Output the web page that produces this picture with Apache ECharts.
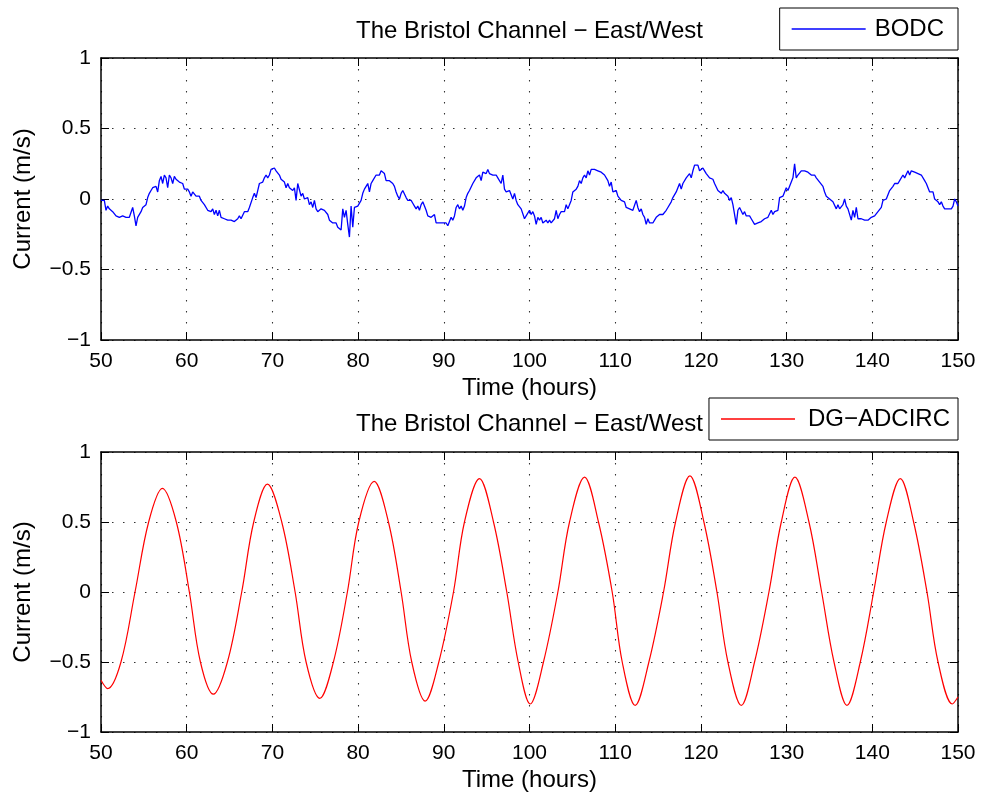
<!DOCTYPE html>
<html>
<head>
<meta charset="utf-8">
<script src="https://cdn.jsdelivr.net/npm/echarts@6/dist/echarts.min.js"></script>
<style>
html,body{margin:0;padding:0;background:#fff;}
#chart{width:983px;height:798px;}
</style>
</head>
<body>
<div id="chart"></div>
<script>
// ---------- data ----------
const chartTitle = 'The Bristol Channel \u2212 East/West';
const xAxisName = 'Time (hours)';
const yAxisName = 'Current (m/s)';
const xTicks = [50, 60, 70, 80, 90, 100, 110, 120, 130, 140, 150];
const yTicks = [-1, -0.5, 0, 0.5, 1];

// BODC observed current, sampled every ~11.7 min starting at hour 50
const bodcName = 'BODC';
const bodcStartHour = 50;
const bodcStepHours = 0.194553;
const bodcCurrent = [
 -0.01,-0.02,-0.01,-0.08,-0.05,-0.07,-0.06,-0.09,-0.08,-0.12,
 -0.11,-0.13,-0.12,-0.12,-0.13,-0.13,-0.13,-0.13,-0.13,-0.06,
 -0.12,-0.19,-0.13,-0.14,-0.09,-0.06,-0.05,-0.04,0.01,0.04,
 0.06,0.08,0.07,0.09,0.05,0.13,0.16,0.11,0.17,0.15,
 0.08,0.17,0.15,0.11,0.16,0.14,0.13,0.12,0.11,0.11,
 0.07,0.06,0.07,0.05,0.02,0.05,0.04,0.02,0.01,0.02,
 -0.01,0.00,-0.04,-0.05,-0.08,-0.07,-0.09,-0.07,-0.11,-0.08,
 -0.12,-0.08,-0.13,-0.14,-0.14,-0.14,-0.15,-0.15,-0.15,-0.15,
 -0.16,-0.17,-0.14,-0.12,-0.14,-0.13,-0.09,-0.08,-0.09,-0.06,
 -0.05,0.01,0.04,0.01,0.06,0.11,0.12,0.12,0.15,0.17,
 0.15,0.17,0.21,0.22,0.22,0.20,0.20,0.17,0.14,0.14,
 0.12,0.08,0.11,0.08,0.09,0.06,0.08,-0.01,0.11,
 0.12,0.02,0.04,0.00,-0.01,0.01,-0.04,-0.02,-0.06,-0.01,
 -0.07,-0.09,-0.08,-0.07,-0.06,-0.08,-0.09,-0.11,-0.15,-0.14,
 -0.17,-0.17,-0.17,-0.20,-0.21,-0.22,-0.07,-0.13,-0.08,-0.18,
 -0.27,-0.05,-0.20,-0.06,-0.07,-0.05,-0.04,-0.01,0.04,0.07,
 0.09,0.11,0.05,0.11,0.13,0.14,0.17,0.18,0.17,0.20,
 0.20,0.18,0.13,0.14,0.13,0.12,0.11,0.09,0.05,0.02,
 0.00,0.04,0.06,0.05,0.01,-0.01,-0.02,-0.01,-0.03,-0.05,
 -0.07,-0.05,-0.08,-0.04,-0.02,-0.05,-0.08,-0.12,-0.11,-0.13,
 -0.14,-0.11,-0.17,-0.18,-0.17,-0.17,-0.17,-0.18,-0.17,-0.19,
 -0.18,-0.13,-0.15,-0.12,-0.06,-0.04,-0.07,-0.05,-0.08,-0.05,
 0.01,0.04,0.06,0.07,0.11,0.12,0.15,0.14,0.17,0.13,
 0.19,0.20,0.18,0.21,0.18,0.19,0.17,0.17,0.17,0.15,
 0.14,0.11,0.17,0.07,0.05,0.06,
 0.06,0.05,0.00,0.04,-0.01,-0.04,-0.05,-0.07,-0.06,-0.14,
 -0.12,-0.13,-0.08,-0.11,-0.09,-0.12,-0.18,-0.13,-0.15,-0.13,
 -0.17,-0.18,-0.15,-0.17,-0.15,-0.17,-0.18,-0.14,-0.08,-0.14,
 -0.11,-0.09,-0.08,-0.09,-0.04,-0.07,-0.06,-0.01,0.05,0.06,
 0.07,0.09,0.13,0.11,0.15,0.17,0.15,0.20,0.17,0.21,
 0.22,0.21,0.21,0.20,0.20,0.19,0.19,0.17,0.18,0.13,
 0.09,0.12,0.05,0.05,0.06,0.02,0.01,-0.01,-0.01,-0.02,
 -0.06,-0.06,-0.07,-0.07,-0.08,-0.07,-0.01,-0.06,-0.09,-0.07,
 -0.11,-0.13,-0.18,-0.14,-0.17,-0.17,-0.17,-0.15,-0.13,-0.13,
 -0.11,-0.12,-0.11,-0.11,-0.08,-0.06,-0.05,-0.02,0.01,0.02,
 0.05,0.06,0.11,0.07,0.11,0.11,0.15,0.14,0.18,0.15,
 0.20,0.24,0.25,0.24,0.20,0.21,0.22,0.20,0.18,0.17,
 0.15,0.14,0.14,0.11,0.11,0.06,
 0.05,0.04,0.06,0.04,0.05,0.02,-0.01,0.01,-0.04,-0.05,
 -0.18,-0.08,-0.06,-0.07,-0.11,-0.09,-0.12,-0.11,-0.12,-0.14,
 -0.15,-0.18,-0.18,-0.17,-0.17,-0.16,-0.16,-0.14,-0.13,-0.13,
 -0.12,-0.08,-0.11,-0.09,-0.09,-0.08,0.01,0.00,0.02,0.02,
 0.08,0.06,0.09,0.12,0.15,0.25,0.15,0.17,0.18,0.20,
 0.19,0.20,0.21,0.19,0.18,0.17,0.18,0.17,0.15,0.14,
 0.12,0.11,0.09,0.05,0.02,0.01,0.00,-0.01,-0.02,-0.01,
 -0.07,-0.04,-0.07,-0.06,-0.04,0.00,-0.05,-0.07,-0.08,-0.15,
 -0.08,-0.13,-0.06,-0.14,-0.15,-0.14,-0.15,-0.15,-0.16,-0.15,
 -0.14,-0.13,-0.12,-0.12,-0.12,-0.09,-0.09,-0.06,-0.01,0.00,
 0.00,0.01,0.06,0.07,0.09,0.11,0.11,0.11,0.13,0.14,
 0.17,0.15,0.14,0.20,0.17,0.20,0.21,0.19,0.19,0.18,
 0.17,0.17,0.18,0.13,0.11,0.11,0.05,0.06,0.05,0.00,
 -0.01,-0.02,-0.04,-0.02,-0.05,-0.07,-0.08,-0.07,-0.08,-0.07,
 -0.05,0.00,-0.02,-0.05
];

// DG-ADCIRC modelled current (read at extremes, zero and +/-0.5 crossings)
const adcircName = 'DG\u2212ADCIRC';
const adcircTime = [
 50.00,50.78,52.33,53.97,55.56,57.16,58.79,60.31,61.60,63.11,
 64.75,66.42,67.82,69.42,71.09,72.65,73.93,75.53,77.12,78.75,
 80.08,81.87,83.54,85.02,86.26,87.82,89.42,91.13,92.41,94.16,
 95.80,97.35,98.68,100.08,101.63,103.31,104.67,106.42,108.05,109.65,
 110.82,112.33,113.93,115.64,117.04,118.72,120.35,121.87,123.15,124.71,
 126.26,127.94,129.38,130.97,132.61,134.09,135.53,137.04,138.60,140.16,
 141.63,143.27,144.82,146.38,147.67,149.34,150.00
];
const adcircCurrent = [
 -0.63,-0.69,-0.5,0,0.5,0.74,0.5,0,-0.5,-0.73,
 -0.5,0,0.5,0.77,0.5,0,-0.5,-0.76,-0.5,0,
 0.5,0.79,0.5,0,-0.5,-0.78,-0.5,0,0.5,0.81,
 0.5,0,-0.5,-0.80,-0.5,0,0.5,0.82,0.5,0,
 -0.5,-0.81,-0.5,0,0.5,0.83,0.5,0,-0.5,-0.81,
 -0.5,0,0.5,0.82,0.5,0,-0.5,-0.81,-0.5,0,
 0.5,0.81,0.5,0,-0.5,-0.80,-0.75
];

// ---------- build ----------
const FONT = "'Liberation Sans', Arial, Helvetica, sans-serif";
const bodcData = bodcCurrent.map((v, i) => [bodcStartHour + i * bodcStepHours, v]);
const adcircData = adcircTime.map((t, i) => [t, adcircCurrent[i]]);

const xMin = xTicks[0], xMax = xTicks[xTicks.length - 1];
const xInt = xTicks[1] - xTicks[0];
const yMin = yTicks[0], yMax = yTicks[yTicks.length - 1];
const yInt = yTicks[1] - yTicks[0];

const frameLine = { show: true, onZero: false, lineStyle: { color: '#000', width: 1.5 } };
const tick = { show: true, inside: true, length: 8, lineStyle: { color: '#000', width: 1 } };
const dotted = { show: true, lineStyle: { color: '#333', width: 1.1, type: [1.5, 9.5] } };
const minusFmt = v => String(v).replace('-', '\u2212');

function xAxes(gi) {
  return [
    { gridIndex: gi, type: 'value', min: xMin, max: xMax, interval: xInt, position: 'bottom',
      axisLine: frameLine, axisTick: tick, splitLine: dotted,
      axisLabel: { color: '#000', fontSize: 21, fontFamily: FONT, margin: 11 },
      name: xAxisName, nameLocation: 'middle', nameGap: 36,
      nameTextStyle: { color: '#000', fontSize: 24, fontFamily: FONT } },
    { gridIndex: gi, type: 'value', min: xMin, max: xMax, interval: xInt, position: 'top',
      axisLine: frameLine, axisTick: tick, splitLine: { show: false }, axisLabel: { show: false } }
  ];
}
function yAxes(gi) {
  return [
    { gridIndex: gi, type: 'value', min: yMin, max: yMax, interval: yInt, position: 'left',
      axisLine: frameLine, axisTick: tick, splitLine: dotted,
      axisLabel: { color: '#000', fontSize: 21, fontFamily: FONT, margin: 10, formatter: minusFmt },
      name: yAxisName, nameLocation: 'middle', nameGap: 66,
      nameTextStyle: { color: '#000', fontSize: 24, fontFamily: FONT } },
    { gridIndex: gi, type: 'value', min: yMin, max: yMax, interval: yInt, position: 'right',
      axisLine: frameLine, axisTick: tick, splitLine: { show: false }, axisLabel: { show: false } }
  ];
}

function legendFor(name, top, textGap, padRight) {
  return {
    data: [name], right: 25, top: top, orient: 'horizontal', selectedMode: false,
    icon: 'rect', itemWidth: 74, itemHeight: 1.5, itemGap: 0,
    padding: [9, padRight, 9, 12], borderColor: '#000', borderWidth: 1, borderRadius: 0,
    backgroundColor: '#fff',
    textStyle: { color: '#000', fontSize: 24, fontFamily: FONT, padding: [0, 0, 0, textGap] }
  };
}

const option = {
  animation: false,
  backgroundColor: '#fff',
  grid: [
    { left: 101, right: 25, top: 58, height: 282 },
    { left: 101, right: 25, top: 452, height: 280 }
  ],
  xAxis: xAxes(0).concat(xAxes(1)),
  yAxis: yAxes(0).concat(yAxes(1)),
  legend: [legendFor(bodcName, 8, 4, 14), legendFor(adcircName, 398, 8, 8)],
  graphic: [
    { type: 'text', x: 529.5, y: 31, z: 1,
      style: { text: chartTitle, font: '24px ' + FONT, fill: '#000',
               align: 'center', verticalAlign: 'middle', textAlign: 'center', textVerticalAlign: 'middle' } },
    { type: 'text', x: 529.5, y: 424, z: 1,
      style: { text: chartTitle, font: '24px ' + FONT, fill: '#000',
               align: 'center', verticalAlign: 'middle', textAlign: 'center', textVerticalAlign: 'middle' } }
  ],
  series: [
    { name: bodcName, type: 'line', xAxisIndex: 0, yAxisIndex: 0, data: bodcData,
      showSymbol: false, symbol: 'none', color: '#0000ff',
      lineStyle: { color: '#0000ff', width: 1.3 }, itemStyle: { color: '#0000ff' } },
    { name: adcircName, type: 'line', xAxisIndex: 2, yAxisIndex: 2, data: adcircData,
      smooth: 0.35, showSymbol: false, symbol: 'none', color: '#ff0000',
      lineStyle: { color: '#ff0000', width: 1.2 }, itemStyle: { color: '#ff0000' } }
  ]
};

const chart = echarts.init(document.getElementById('chart'), null, { renderer: 'canvas' });
chart.setOption(option);
</script>
</body>
</html>
